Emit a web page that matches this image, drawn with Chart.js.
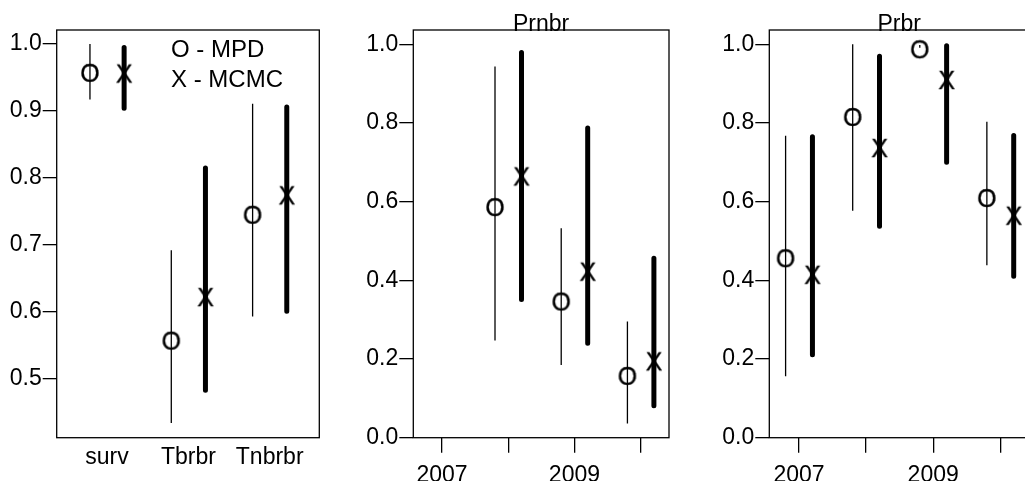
<!DOCTYPE html>
<html>
<head>
<meta charset="utf-8">
<script src="https://cdn.jsdelivr.net/npm/chart.js@4.4.0/dist/chart.umd.min.js"></script>
<style>
  html, body { margin: 0; padding: 0; background: #fff; width: 1025px; height: 481px; overflow: hidden; }
  .panel { position: absolute; top: 0; }
</style>
</head>
<body>
<canvas id="c1" class="panel" style="left:0px" width="340" height="481"></canvas>
<canvas id="c2" class="panel" style="left:340px" width="340" height="481"></canvas>
<canvas id="c3" class="panel" style="left:680px" width="360" height="481"></canvas>
<script>
// parameter estimates: MPD (point + thin interval) and MCMC (point + thick interval)
var groups = ['surv', 'Tbrbr', 'Tnbrbr'];
var parMpd = [0.957, 0.557, 0.745];
var parMpdLo = [0.917, 0.434, 0.593];
var parMpdHi = [1.0, 0.692, 0.911];
var parMcmc = [0.956, 0.622, 0.774];
var parMcmcLo = [0.904, 0.483, 0.601];
var parMcmcHi = [0.995, 0.815, 0.906];

var yearTicks = [2007, 2008, 2009, 2010];
var yearLabels = ['2007', '', '2009', ''];

var prnbrYears = [2008, 2009, 2010];
var prnbrMpd = [0.586, 0.346, 0.157];
var prnbrMpdLo = [0.247, 0.185, 0.036];
var prnbrMpdHi = [0.943, 0.532, 0.295];
var prnbrMcmc = [0.664, 0.422, 0.194];
var prnbrMcmcLo = [0.351, 0.240, 0.081];
var prnbrMcmcHi = [0.979, 0.787, 0.456];

var prbrYears = [2007, 2008, 2009, 2010];
var prbrMpd = [0.456, 0.815, 0.987, 0.609];
var prbrMpdLo = [0.156, 0.577, 0.991, 0.438];
var prbrMpdHi = [0.767, 1.0, 0.998, 0.803];
var prbrMcmc = [0.414, 0.736, 0.909, 0.564];
var prbrMcmcLo = [0.211, 0.537, 0.700, 0.410];
var prbrMcmcHi = [0.765, 0.969, 0.996, 0.768];

var FONT = 'Liberation Sans';
Chart.defaults.font.family = FONT;
Chart.defaults.font.size = 23;
Chart.defaults.color = '#000';

// letter markers, like R's pch="O" / pch="X"
function glyph(ch) {
    var c = document.createElement('canvas');
    c.width = 30; c.height = 30;
    var g = c.getContext('2d');
    g.font = '25px "' + FONT + '"';
    g.textAlign = 'center';
    g.textBaseline = 'alphabetic';
    g.fillStyle = '#000';
    g.strokeStyle = '#000';
    g.lineWidth = 0.3;
    var y = 15 + 0.716 * 25 / 2;
    g.fillText(ch, 15, y);
    g.strokeText(ch, 15, y);
    return c;
}
var markO = glyph('O');
var markX = glyph('X');

function segs(xs, lo, hi, off) {
    var out = [];
    for (var i = 0; i < xs.length; i++) {
        out.push({x: xs[i] + off, y: lo[i]}, {x: xs[i] + off, y: hi[i]}, {x: xs[i] + off, y: null});
    }
    return out;
}
function pts(xs, ys, off) {
    return xs.map(function(x, i) { return {x: x + off, y: ys[i]}; });
}

var boxPlugin = {
    id: 'box',
    afterDraw: function(chart) {
        var a = chart.chartArea, ctx = chart.ctx;
        ctx.save();
        ctx.strokeStyle = '#000';
        ctx.lineWidth = 1.3;
        ctx.strokeRect(a.left, a.top, a.right - a.left, a.bottom - a.top);
        var t = chart.options.plugins.panelText;
        ctx.fillStyle = '#000';
        ctx.textBaseline = 'alphabetic';
        if (t.title) {
            ctx.font = '23px "' + FONT + '"';
            ctx.textAlign = 'center';
            ctx.fillText(t.title, (a.left + a.right) / 2, a.top + 1);
        }
        if (t.legend) {
            ctx.font = '24px "' + FONT + '"';
            ctx.textAlign = 'left';
            ctx.fillText('O - MPD', 171, 57);
            ctx.fillText('X - MCMC', 171, 87);
        }
        ctx.restore();
    }
};

function makePanel(id, p) {
    new Chart(document.getElementById(id), {
        type: 'scatter',
        data: {
            datasets: [
                {data: pts(p.xs, p.mpd, -p.off), pointStyle: markO, pointRadius: 10, order: 0},
                {data: segs(p.xs, p.mcmcLo, p.mcmcHi, p.off), showLine: true, spanGaps: false,
                 borderColor: '#000', borderWidth: 5, borderCapStyle: 'round', pointRadius: 0, order: 1},
                {data: pts(p.xs, p.mcmc, p.off), pointStyle: markX, pointRadius: 10, order: 2},
                {data: segs(p.xs, p.mpdLo, p.mpdHi, -p.off), showLine: true, spanGaps: false,
                 borderColor: '#000', borderWidth: 1.3, pointRadius: 0, order: 3}
            ]
        },
        options: {
            responsive: false,
            animation: false,
            devicePixelRatio: 1,
            events: [],
            layout: {padding: {top: 30, right: p.padRight, bottom: 0, left: 0}},
            plugins: {legend: {display: false}, tooltip: {enabled: false},
                      panelText: {title: p.title, legend: p.legend}},
            scales: {
                x: {
                    type: 'linear', min: p.xmin, max: p.xmax,
                    afterBuildTicks: function(s) { s.ticks = p.xticks.map(function(v) { return {value: v}; }); },
                    afterFit: function(s) { s.height = 43.3; },
                    ticks: {autoSkip: false, maxRotation: 0, padding: p.xPad,
                            callback: function(v, i) { return p.xlabels[i]; }},
                    grid: {display: p.xTickMarks, drawOnChartArea: false, drawTicks: p.xTickMarks,
                           tickLength: 15, color: '#000', lineWidth: 1.3},
                    border: {display: false}
                },
                y: {
                    type: 'linear', min: p.ymin, max: p.ymax,
                    afterBuildTicks: function(s) { s.ticks = p.yticks.map(function(v) { return {value: v}; }); },
                    afterFit: function(s) { s.width = p.yWidth; },
                    ticks: {padding: 1, callback: function(v) { return v.toFixed(1); }},
                    grid: {drawOnChartArea: false, tickLength: 14, color: '#000', lineWidth: 1.3},
                    border: {display: false}
                }
            }
        },
        plugins: [boxPlugin]
    });
}

makePanel('c1', {
    xs: [1, 2, 3], off: 0.21, xmin: 0.381, xmax: 3.61,
    xticks: [1, 2, 3], xlabels: groups, xTickMarks: false, xPad: 6,
    ymin: 0.412, ymax: 1.021, yticks: [0.5, 0.6, 0.7, 0.8, 0.9, 1.0],
    yWidth: 56.7, padRight: 20.7, title: null, legend: true,
    mpd: parMpd, mpdLo: parMpdLo, mpdHi: parMpdHi,
    mcmc: parMcmc, mcmcLo: parMcmcLo, mcmcHi: parMcmcHi
});

makePanel('c2', {
    xs: prnbrYears, off: 0.2, xmin: 2006.566, xmax: 2010.428,
    xticks: yearTicks, xlabels: yearLabels, xTickMarks: true, xPad: 9,
    ymin: 0, ymax: 1.036, yticks: [0, 0.2, 0.4, 0.6, 0.8, 1.0],
    yWidth: 73.3, padRight: 5, title: 'Prnbr', legend: false,
    mpd: prnbrMpd, mpdLo: prnbrMpdLo, mpdHi: prnbrMpdHi,
    mcmc: prnbrMcmc, mcmcLo: prnbrMcmcLo, mcmcHi: prnbrMcmcHi
});

makePanel('c3', {
    xs: prbrYears, off: 0.2, xmin: 2006.557, xmax: 2010.428,
    xticks: yearTicks, xlabels: yearLabels, xTickMarks: true, xPad: 9,
    ymin: 0, ymax: 1.036, yticks: [0, 0.2, 0.4, 0.6, 0.8, 1.0],
    yWidth: 89.3, padRight: 8.7, title: 'Prbr', legend: false,
    mpd: prbrMpd, mpdLo: prbrMpdLo, mpdHi: prbrMpdHi,
    mcmc: prbrMcmc, mcmcLo: prbrMcmcLo, mcmcHi: prbrMcmcHi
});
</script>
</body>
</html>
